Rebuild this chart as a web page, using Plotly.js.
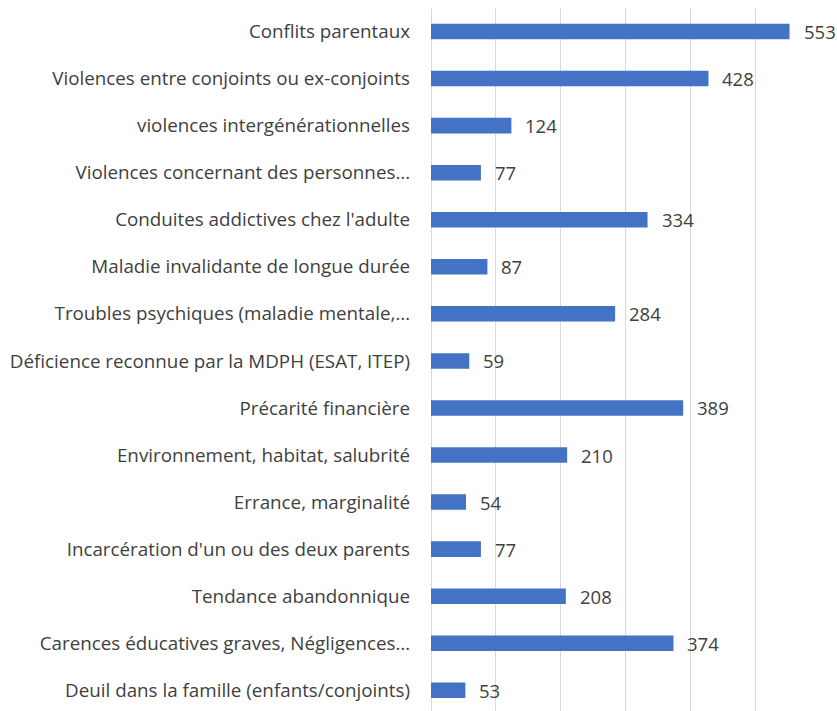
<!DOCTYPE html>
<html><head><meta charset="utf-8">
<script src="https://cdn.plot.ly/plotly-3.0.1.min.js"></script>
<style>html,body{margin:0;padding:0;background:#fff;}#chart{width:837px;height:711px;}</style>
</head><body><div id="chart"></div>
<script>
const categories = [
  "Conflits parentaux",
  "Violences entre conjoints ou ex-conjoints",
  "violences intergénérationnelles",
  "Violences concernant des personnes…",
  "Conduites addictives chez l'adulte",
  "Maladie invalidante de longue durée",
  "Troubles psychiques (maladie mentale,…",
  "Déficience reconnue par la MDPH (ESAT, ITEP)",
  "Précarité financière",
  "Environnement, habitat, salubrité",
  "Errance, marginalité",
  "Incarcération d'un ou des deux parents",
  "Tendance abandonnique",
  "Carences éducatives graves, Négligences…",
  "Deuil dans la famille (enfants/conjoints)"
];
const values = [553, 428, 124, 77, 334, 87, 284, 59, 389, 210, 54, 77, 208, 374, 53];

const fontFam = "'Open Sans', 'Liberation Sans', sans-serif";
const textColor = "#404040";

const trace = {
  type: "bar",
  orientation: "h",
  x: values,
  y: categories,
  marker: {color: "#4472C4"},
  width: 0.33,
  hoverinfo: "none"
};

const annotations = values.map((v, i) => ({
  x: v, y: categories[i], xref: "x", yref: "y",
  text: String(v), showarrow: false, xanchor: "left", xshift: 12,
  font: {family: fontFam, size: 18.5, color: textColor}
}));

const layout = {
  width: 837, height: 711,
  margin: {l: 431, r: 17, t: 8, b: 0},
  paper_bgcolor: "#fff", plot_bgcolor: "#fff",
  showlegend: false,
  xaxis: {
    range: [0, 600], dtick: 100, showticklabels: false,
    showgrid: true, gridcolor: "#d9d9d9", gridwidth: 1,
    zeroline: true, zerolinecolor: "#d9d9d9", zerolinewidth: 1,
    showline: false, fixedrange: true
  },
  yaxis: {
    type: "category",
    range: [14.44, -0.5],
    showgrid: false, zeroline: false, showline: false,
    ticks: "", ticklabelstandoff: 20,
    tickfont: {family: fontFam, size: 18.8, color: textColor}
  },
  annotations: annotations
};

Plotly.newPlot("chart", [trace], layout, {displayModeBar: false, staticPlot: true});
</script></body></html>
